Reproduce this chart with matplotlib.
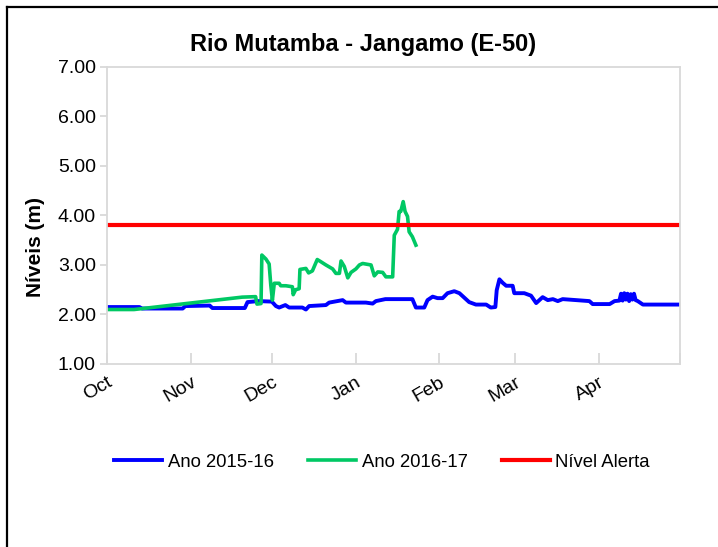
import matplotlib
matplotlib.use('Agg')
import matplotlib.pyplot as plt
from matplotlib.lines import Line2D

plt.rcParams['font.family'] = ['Liberation Sans', 'DejaVu Sans']

# Dias contados a partir de 1 de Outubro
month_ticks = [0, 31, 61, 92, 123, 151, 182, 212]
month_labels = ['Oct', 'Nov', 'Dec', 'Jan', 'Feb', 'Mar', 'Apr', '']

# Ano 2015-16
blue_days = [0, 12, 13, 28, 29, 38, 39, 51, 52, 56,
             61, 62.5, 63.7, 66, 67.4, 72.3, 73.6, 74.8, 81, 82.2,
             87.2, 88.4, 95.8, 98.3, 99.5, 103, 113, 114.3, 117.4, 118.6,
             120.5, 122.3, 124.2, 126, 128.5, 130.4, 134, 136.5, 140.3, 142,
             143.7, 144.2, 145.2, 146.4, 147.7, 150.1, 150.7, 154.4, 156.9, 158.8,
             161.2, 163.1, 165, 166.8, 168.6, 173.6, 178.5, 179.7, 186, 187.8,
             189.6, 190.2, 190.8, 191.4, 192, 192.6, 193.2, 193.8, 194.4, 195,
             195.6, 196.4, 198.3, 212]
blue_vals = [2.15, 2.15, 2.12, 2.12, 2.17, 2.18, 2.13, 2.13, 2.25, 2.27,
             2.26, 2.17, 2.14, 2.19, 2.14, 2.14, 2.10, 2.17, 2.19, 2.24,
             2.29, 2.24, 2.24, 2.22, 2.27, 2.31, 2.31, 2.14, 2.14, 2.29,
             2.36, 2.33, 2.33, 2.43, 2.47, 2.43, 2.25, 2.20, 2.20, 2.14,
             2.15, 2.49, 2.71, 2.64, 2.58, 2.58, 2.43, 2.43, 2.38, 2.23,
             2.35, 2.29, 2.31, 2.27, 2.31, 2.29, 2.27, 2.21, 2.21, 2.27,
             2.28, 2.42, 2.28, 2.43, 2.30, 2.42, 2.27, 2.41, 2.30, 2.42,
             2.29, 2.27, 2.20, 2.20]

# Ano 2016-17
green_days = [0, 10, 50, 55, 55.5, 57, 57.3, 58.8, 60, 60.6,
              61.2, 61.9, 63.7, 64.3, 66.2, 68.6, 68.9, 69.8, 71.1, 71.4,
              73.6, 74.6, 76, 77.8, 79, 81, 83.5, 84.7, 86, 86.6,
              87.8, 89.1, 90.3, 92.1, 93.4, 94.6, 97.7, 98.9, 100.2, 102,
              103.2, 105.7, 106.3, 107.5, 108.1, 108.7, 109.6, 110.3, 111.2, 111.8,
              113, 114.3]
green_vals = [2.10, 2.10, 2.35, 2.36, 2.21, 2.22, 3.20, 3.12, 3.02, 2.6,
              2.29, 2.63, 2.63, 2.58, 2.58, 2.56, 2.40, 2.50, 2.52, 2.91,
              2.93, 2.84, 2.88, 3.11, 3.07, 3.0, 2.92, 2.83, 2.83, 3.08,
              2.97, 2.74, 2.85, 2.92, 3.0, 3.03, 3.0, 2.78, 2.86, 2.85,
              2.76, 2.76, 3.6, 3.72, 4.08, 4.08, 4.28, 4.08, 3.98, 3.67,
              3.57, 3.40]

alert_level = 3.80
y_ticks = [1, 2, 3, 4, 5, 6, 7]

fig = plt.figure(figsize=(7.18, 5.47), dpi=100)
ax = fig.add_axes([0.149, 0.3346, 0.798, 0.543])

ax.plot(blue_days, blue_vals, color='#0000FF', lw=2.8, label='Ano 2015-16', solid_joinstyle='round')
ax.plot(green_days, green_vals, color='#00C864', lw=2.6, label='Ano 2016-17', solid_joinstyle='round')
ax.axhline(alert_level, color='#FF0000', lw=3, label='Nível Alerta')

ax.set_xlim(0, 212)
ax.set_ylim(1, 7)
ax.set_yticks(y_ticks)
ax.set_yticklabels(['%.2f' % v for v in y_ticks], fontsize=14)
ax.set_xticks(month_ticks)
ax.set_xticklabels(month_labels, fontsize=14, rotation=30, ha='right', va='top',
                   rotation_mode='anchor')

for s in ax.spines.values():
    s.set_color('#d9d9d9')
    s.set_linewidth(1.3)
ax.tick_params(axis='x', direction='in', length=8, color='#d9d9d9', width=1.3, pad=7)
ax.tick_params(axis='y', direction='out', length=5, color='#d9d9d9', width=1.3, pad=3)

fig.text(0.506, 0.918, 'Rio Mutamba - Jangamo (E-50)', ha='center', va='center',
         fontsize=17, fontweight='bold')
fig.text(0.049, 0.548, 'Níveis (m)', ha='center', va='center', rotation=90,
         fontsize=15, fontweight='bold')

fig.legend(loc='center', bbox_to_anchor=(0.532, 0.155), ncol=3, frameon=False,
           fontsize=13.3, handlelength=2.6, columnspacing=1.85, handletextpad=0.3)

# moldura do grafico
fig.add_artist(Line2D([0.0097, 1.0], [0.987, 0.987], transform=fig.transFigure, color='black', lw=1.6))
fig.add_artist(Line2D([0.0097, 0.0097], [0.0, 0.987], transform=fig.transFigure, color='black', lw=1.6))

fig.savefig('out.png', dpi=100)
